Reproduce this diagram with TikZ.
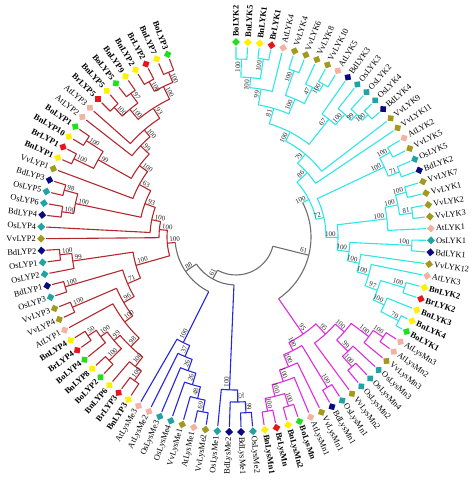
\documentclass[tikz,border=0pt]{standalone}
\usepackage{fontspec}
\setmainfont{Liberation Serif}
\usepackage{xcolor}
% branch colours
\definecolor{LYP_Red}{HTML}{B3282D}
\definecolor{LYK_Cyan}{HTML}{2EE6E6}
\definecolor{LysMn_Magenta}{HTML}{E02BE0}
\definecolor{LysMe_Blue}{HTML}{2626DD}
\definecolor{Root_Gray}{HTML}{6E6E6E}
\definecolor{Num_Gray}{HTML}{262626}
% species colours
\definecolor{Bn_Yellow}{HTML}{FFF000}
\definecolor{Br_Red}{HTML}{E8161B}
\definecolor{Bo_Green}{HTML}{1EE01E}
\definecolor{At_Pink}{HTML}{F2B2A2}
\definecolor{Vv_Olive}{HTML}{A19A1F}
\definecolor{Os_Teal}{HTML}{22A3A3}
\definecolor{Bd_Navy}{HTML}{0A0A80}

\tikzset{
  tipmark/.style={rectangle, minimum size=5.6pt, inner sep=0pt},
  leaflab/.style={font=\fontsize{8.4}{9}\selectfont, inner sep=0pt},
  bootnum/.style={font=\fontsize{7}{7}\selectfont, text=Num_Gray, inner sep=0.8pt},
  branch/.style={line width=1.1pt, line join=round},
}

\newcount\bootcnt
% one internal node: child angle/radius, child angle/radius, node radius
\newcommand{\clade}[5]{\draw (#1:#2pt) -- (#1:#5pt) arc[start angle=#1, end angle=#3, radius=#5pt] -- (#3:#4pt);}
\newcommand{\stalk}[3]{\draw (#1:#2pt) -- (#1:#3pt);}
% bootstrap value next to a node
\newcommand{\boot}[3]{%
  \global\advance\bootcnt by 1
  \pgfmathsetmacro\bootr{#2-1.5}%
  \pgfmathtruncatemacro\bootside{cos(#1)>=0}%
  \ifnum\bootside=1
    \node[bootnum, rotate=#1, anchor=south east] (b\the\bootcnt) at (#1:\bootr pt) {#3};%
  \else
    \node[bootnum, rotate=#1+180, anchor=south west] (b\the\bootcnt) at (#1:\bootr pt) {#3};%
  \fi}
% leaf: index, gene, species colour, font
\newcommand{\leaf}[4]{%
  \pgfmathsetmacro\lfang{93.5-3.5*#1}%
  \node[tipmark, fill=#3, rotate=\lfang+45] (m#1) at (\lfang:195pt) {};%
  \pgfmathtruncatemacro\lfside{cos(\lfang)>=0}%
  \ifnum\lfside=1
    \node[leaflab, rotate=\lfang, anchor=west] (t#1) at (\lfang:200pt) {#4#2};%
  \else
    \node[leaflab, rotate=\lfang+180, anchor=east] (t#1) at (\lfang:200pt) {#4#2};%
  \fi}

\begin{document}
\begin{tikzpicture}
    \useasboundingbox (-236pt,-245pt) rectangle (238pt,237pt);

    % Root (gray)
    \begin{scope}[branch, Root_Gray]
        \draw (240.93:38pt) arc[start angle=240.93, end angle=345.95, radius=38pt];
        \stalk{240.93}{38}{48}
        \draw (214.3:48pt) arc[start angle=214.3, end angle=267.56, radius=48pt];
        \stalk{214.3}{48}{61}
        \draw (185.15:61pt) arc[start angle=185.15, end angle=243.45, radius=61pt];
        \stalk{-14.05}{38}{75}
        \draw (-55.36:75pt) arc[start angle=-55.36, end angle=27.27, radius=75pt];
    \end{scope}
    \boot{214.3}{61}{88}
    \boot{240.93}{48}{61}
    \boot{-14.05}{75}{61}

    % LYK clade (cyan)
    \begin{scope}[branch, LYK_Cyan]
        \stalk{27.27}{75}{82}
        \clade{90}{190}{86.5}{190}{178}
        \clade{83}{190}{79.5}{190}{180}
        \clade{88.25}{178}{81.25}{180}{160}
        \clade{84.75}{160}{76}{190}{150}
        \clade{72.5}{190}{69}{190}{176}
        \clade{62}{190}{58.5}{190}{176}
        \clade{65.5}{190}{60.25}{176}{168}
        \clade{70.75}{176}{62.875}{168}{150}
        \clade{80.375}{150}{66.8125}{150}{134}
        \clade{44.5}{190}{41}{190}{180}
        \clade{48}{190}{42.75}{180}{172}
        \clade{51.5}{190}{45.375}{172}{164}
        \clade{55}{190}{48.4375}{164}{150}
        \clade{73.59}{134}{51.72}{150}{118}
        \clade{62.66}{118}{37.5}{190}{108}
        \clade{50.08}{108}{34}{190}{96}
        \clade{30.5}{190}{27}{190}{176}
        \clade{23.5}{190}{20}{190}{176}
        \clade{28.75}{176}{21.75}{176}{164}
        \clade{16.5}{190}{13}{190}{176}
        \clade{9.5}{190}{6}{190}{178}
        \clade{14.75}{176}{7.75}{178}{165}
        \clade{11.25}{165}{2.5}{190}{152}
        \clade{-1}{190}{-4.5}{190}{176}
        \clade{-15}{190}{-18.5}{190}{176}
        \clade{-25.5}{190}{-29}{190}{183}
        \clade{-22}{190}{-27.25}{183}{163}
        \clade{-16.75}{176}{-24.625}{163}{151}
        \clade{-11.5}{190}{-20.6875}{151}{138}
        \clade{-8}{190}{-16.09}{138}{126}
        \clade{-2.75}{176}{-12.05}{126}{114}
        \clade{6.875}{152}{-7.4}{114}{102}
        \clade{25.25}{164}{-0.26}{102}{90}
        \clade{42.04}{96}{12.5}{90}{82}
    \end{scope}
    \boot{88.25}{178}{100}   \boot{81.25}{180}{100}  \boot{84.75}{160}{100}
    \boot{80.375}{150}{99}   \boot{70.75}{176}{100}  \boot{60.25}{176}{100}
    \boot{62.875}{168}{47}   \boot{66.8125}{150}{100} \boot{73.59}{134}{81}
    \boot{42.75}{180}{100}   \boot{45.375}{172}{99}  \boot{48.4375}{164}{100}
    \boot{51.72}{150}{67}    \boot{62.66}{118}{100}  \boot{50.08}{108}{79}
    \boot{42.04}{96}{86}     \boot{28.75}{176}{100}  \boot{21.75}{176}{71}
    \boot{25.25}{164}{100}   \boot{14.75}{176}{100}  \boot{7.75}{178}{81}
    \boot{11.25}{165}{100}   \boot{6.875}{152}{100}  \boot{-2.75}{176}{100}
    \boot{-16.75}{176}{100}  \boot{-27.25}{183}{70}  \boot{-24.625}{163}{100}
    \boot{-20.6875}{151}{97} \boot{-16.09}{138}{100} \boot{-12.05}{126}{100}
    \boot{-7.4}{114}{100}    \boot{-0.26}{102}{100}  \boot{12.5}{90}{72}
    \boot{27.27}{82}{100}

    % LysMn clade (magenta)
    \begin{scope}[branch, LysMn_Magenta]
        \stalk{-55.36}{75}{118}
        \clade{-32.5}{190}{-36}{190}{178}
        \clade{-34.25}{178}{-39.5}{190}{166}
        \clade{-46.5}{190}{-50}{190}{174}
        \clade{-43}{190}{-48.25}{174}{160}
        \clade{-36.875}{166}{-45.625}{160}{144}
        \clade{-41.25}{144}{-53.5}{190}{132}
        \clade{-57}{190}{-60.5}{190}{176}
        \clade{-71}{190}{-74.5}{190}{177}
        \clade{-78}{190}{-81.5}{190}{177}
        \clade{-72.75}{177}{-79.75}{177}{164}
        \clade{-67.5}{190}{-76.25}{164}{152}
        \clade{-64}{190}{-71.875}{152}{140}
        \clade{-58.75}{176}{-67.94}{140}{127}
        \clade{-47.375}{132}{-63.34}{127}{118}
    \end{scope}
    \boot{-34.25}{178}{100}  \boot{-36.875}{166}{100} \boot{-48.25}{174}{100}
    \boot{-45.625}{160}{99}  \boot{-41.25}{144}{100}  \boot{-47.375}{132}{95}
    \boot{-58.75}{176}{100}  \boot{-72.75}{177}{100}  \boot{-79.75}{177}{100}
    \boot{-76.25}{164}{100}  \boot{-71.875}{152}{100} \boot{-67.94}{140}{100}
    \boot{-63.34}{127}{100}  \boot{-55.36}{118}{95}

    % LysMe clades (blue)
    \begin{scope}[branch, LysMe_Blue]
        \stalk{-92.44}{48}{153}
        \clade{-85}{190}{-88.5}{190}{176}
        \clade{-86.75}{176}{-92}{190}{165}
        \clade{-89.375}{165}{-95.5}{190}{153}
        \stalk{-116.55}{61}{118}
        \clade{-99}{190}{-102.5}{190}{178}
        \clade{-100.75}{178}{-106}{190}{166}
        \clade{-103.375}{166}{-109.5}{190}{154}
        \clade{-106.44}{154}{-113}{190}{142}
        \clade{-109.72}{142}{-116.5}{190}{130}
        \clade{-113.11}{130}{-120}{190}{118}
    \end{scope}
    \boot{-86.75}{176}{99}   \boot{-89.375}{165}{75}  \boot{-92.44}{153}{100}
    \boot{-100.75}{178}{69}  \boot{-103.375}{166}{48} \boot{-106.44}{154}{26}
    \boot{-109.72}{142}{26}  \boot{-113.11}{130}{37}  \boot{-116.55}{118}{100}

    % LYP clade (red)
    \begin{scope}[branch, LYP_Red]
        \stalk{185.15}{61}{69}
        \clade{236.5}{190}{233}{190}{176}
        \clade{234.75}{176}{229.5}{190}{164}
        \clade{226}{190}{222.5}{190}{177}
        \clade{215.5}{190}{212}{190}{178}
        \clade{219}{190}{213.75}{178}{168}
        \clade{224.25}{177}{216.375}{168}{160}
        \clade{232.125}{164}{220.3125}{160}{152}
        \clade{226.22}{152}{208.5}{190}{140}
        \clade{205}{190}{201.5}{190}{178}
        \clade{217.36}{140}{203.25}{178}{130}
        \clade{198}{190}{194.5}{190}{178}
        \clade{210.3}{130}{196.25}{178}{118}
        \clade{187.5}{190}{184}{190}{177}
        \clade{191}{190}{185.75}{177}{165}
        \clade{203.28}{118}{188.375}{165}{104}
        \clade{114}{190}{110.5}{190}{178}
        \clade{121}{190}{117.5}{190}{178}
        \clade{119.25}{178}{112.25}{178}{167}
        \clade{128}{190}{124.5}{190}{178}
        \clade{135}{190}{131.5}{190}{178}
        \clade{133.25}{178}{126.25}{178}{166}
        \clade{129.75}{166}{115.75}{167}{153}
        \clade{138.5}{190}{122.75}{153}{141}
        \clade{142}{190}{130.625}{141}{132}
        \clade{149}{190}{145.5}{190}{178}
        \clade{156}{190}{152.5}{190}{180}
        \clade{154.25}{180}{147.25}{178}{158}
        \clade{150.75}{158}{136.31}{132}{120}
        \clade{159.5}{190}{143.53}{120}{110}
        \clade{166.5}{190}{163}{190}{178}
        \clade{173.5}{190}{170}{190}{176}
        \clade{171.75}{176}{164.75}{178}{164}
        \clade{168.25}{164}{151.52}{110}{97}
        \clade{177}{190}{159.88}{97}{86}
        \clade{180.5}{190}{168.44}{86}{77}
        \clade{174.47}{77}{195.83}{104}{69}
    \end{scope}
    \boot{234.75}{176}{100}  \boot{232.125}{164}{100} \boot{224.25}{177}{100}
    \boot{213.75}{178}{50}   \boot{216.375}{168}{100} \boot{220.3125}{160}{99}
    \boot{226.22}{152}{98}   \boot{217.36}{140}{100}  \boot{203.25}{178}{100}
    \boot{210.3}{130}{96}    \boot{196.25}{178}{100}  \boot{203.28}{118}{71}
    \boot{185.75}{177}{100}  \boot{188.375}{165}{99}  \boot{195.83}{104}{100}
    \boot{112.25}{178}{100}  \boot{119.25}{178}{100}  \boot{115.75}{167}{100}
    \boot{126.25}{178}{97}   \boot{133.25}{178}{100}  \boot{129.75}{166}{100}
    \boot{122.75}{153}{93}   \boot{130.625}{141}{100} \boot{136.31}{132}{99}
    \boot{147.25}{178}{100}  \boot{154.25}{180}{100}  \boot{150.75}{158}{99}
    \boot{143.53}{120}{100}  \boot{151.52}{110}{63}   \boot{164.75}{178}{98}
    \boot{171.75}{176}{100}  \boot{168.25}{164}{100}  \boot{159.88}{97}{93}
    \boot{168.44}{86}{100}   \boot{174.47}{77}{100}   \boot{185.15}{69}{100}

    % Leaves
    \leaf{1}{BoLYK2}{Bo_Green}{\bfseries}
    \leaf{2}{BnLYK5}{Bn_Yellow}{\bfseries}
    \leaf{3}{BnLYK1}{Bn_Yellow}{\bfseries}
    \leaf{4}{BrLYK1}{Br_Red}{\bfseries}
    \leaf{5}{AtLYK4}{At_Pink}{}
    \leaf{6}{VvLYK4}{Vv_Olive}{}
    \leaf{7}{VvLYK6}{Vv_Olive}{}
    \leaf{8}{VvLYK8}{Vv_Olive}{}
    \leaf{9}{VvLYK10}{Vv_Olive}{}
    \leaf{10}{AtLYK5}{At_Pink}{}
    \leaf{11}{BdLYK3}{Bd_Navy}{}
    \leaf{12}{OsLYK3}{Os_Teal}{}
    \leaf{13}{OsLYK2}{Os_Teal}{}
    \leaf{14}{OsLYK4}{Os_Teal}{}
    \leaf{15}{BdLYK4}{Bd_Navy}{}
    \leaf{16}{VvLYK9}{Vv_Olive}{}
    \leaf{17}{VvLYK11}{Vv_Olive}{}
    \leaf{18}{AtLYK2}{At_Pink}{}
    \leaf{19}{VvLYK5}{Vv_Olive}{}
    \leaf{20}{OsLYK5}{Os_Teal}{}
    \leaf{21}{BdLYK2}{Bd_Navy}{}
    \leaf{22}{VvLYK7}{Vv_Olive}{}
    \leaf{23}{VvLYK1}{Vv_Olive}{}
    \leaf{24}{VvLYK2}{Vv_Olive}{}
    \leaf{25}{VvLYK3}{Vv_Olive}{}
    \leaf{26}{AtLYK1}{At_Pink}{}
    \leaf{27}{OsLYK1}{Os_Teal}{}
    \leaf{28}{BdLYK1}{Bd_Navy}{}
    \leaf{29}{VvLYK12}{Vv_Olive}{}
    \leaf{30}{AtLYK3}{At_Pink}{}
    \leaf{31}{BnLYK2}{Bn_Yellow}{\bfseries}
    \leaf{32}{BrLYK2}{Br_Red}{\bfseries}
    \leaf{33}{BnLYK3}{Bn_Yellow}{\bfseries}
    \leaf{34}{BnLYK4}{Bn_Yellow}{\bfseries}
    \leaf{35}{BoLYK1}{Bo_Green}{\bfseries}
    \leaf{36}{AtLysMn3}{At_Pink}{}
    \leaf{37}{AtLysMn2}{At_Pink}{}
    \leaf{38}{VvLysMn3}{Vv_Olive}{}
    \leaf{39}{OsLysMn3}{Os_Teal}{}
    \leaf{40}{OsLysMn4}{Os_Teal}{}
    \leaf{41}{OsLysMn2}{Os_Teal}{}
    \leaf{42}{VvLysMn2}{Vv_Olive}{}
    \leaf{43}{OsLysMn1}{Os_Teal}{}
    \leaf{44}{BdLysMn1}{Bd_Navy}{}
    \leaf{45}{VvLysMn1}{Vv_Olive}{}
    \leaf{46}{AtLysMn1}{At_Pink}{}
    \leaf{47}{BoLysMn}{Bo_Green}{\bfseries}
    \leaf{48}{BnLysMn2}{Bn_Yellow}{\bfseries}
    \leaf{49}{BrLysMn}{Br_Red}{\bfseries}
    \leaf{50}{BnLysMn1}{Bn_Yellow}{\bfseries}
    \leaf{51}{OsLysMe2}{Os_Teal}{}
    \leaf{52}{BdLysMe1}{Bd_Navy}{}
    \leaf{53}{BdLysMe2}{Bd_Navy}{}
    \leaf{54}{OsLysMe1}{Os_Teal}{}
    \leaf{55}{VvLysMe2}{Vv_Olive}{}
    \leaf{56}{AtLysMe1}{At_Pink}{}
    \leaf{57}{VvLysMe1}{Vv_Olive}{}
    \leaf{58}{OsLysMe4}{Os_Teal}{}
    \leaf{59}{OsLysMe3}{Os_Teal}{}
    \leaf{60}{AtLysMe2}{At_Pink}{}
    \leaf{61}{AtLysMe3}{At_Pink}{}
    \leaf{62}{BnLYP3}{Bn_Yellow}{\bfseries}
    \leaf{63}{BrLYP3}{Br_Red}{\bfseries}
    \leaf{64}{BnLYP6}{Bn_Yellow}{\bfseries}
    \leaf{65}{BoLYP2}{Bo_Green}{\bfseries}
    \leaf{66}{BnLYP8}{Bn_Yellow}{\bfseries}
    \leaf{67}{BoLYP4}{Bo_Green}{\bfseries}
    \leaf{68}{BrLYP4}{Br_Red}{\bfseries}
    \leaf{69}{BnLYP4}{Bn_Yellow}{\bfseries}
    \leaf{70}{AtLYP1}{At_Pink}{}
    \leaf{71}{VvLYP4}{Vv_Olive}{}
    \leaf{72}{VvLYP3}{Vv_Olive}{}
    \leaf{73}{OsLYP3}{Os_Teal}{}
    \leaf{74}{BdLYP1}{Bd_Navy}{}
    \leaf{75}{OsLYP2}{Os_Teal}{}
    \leaf{76}{OsLYP1}{Os_Teal}{}
    \leaf{77}{BdLYP2}{Bd_Navy}{}
    \leaf{78}{VvLYP2}{Vv_Olive}{}
    \leaf{79}{OsLYP4}{Os_Teal}{}
    \leaf{80}{BdLYP4}{Bd_Navy}{}
    \leaf{81}{OsLYP6}{Os_Teal}{}
    \leaf{82}{OsLYP5}{Os_Teal}{}
    \leaf{83}{BdLYP3}{Bd_Navy}{}
    \leaf{84}{VvLYP1}{Vv_Olive}{}
    \leaf{85}{BnLYP1}{Bn_Yellow}{\bfseries}
    \leaf{86}{BrLYP1}{Br_Red}{\bfseries}
    \leaf{87}{BnLYP10}{Bn_Yellow}{\bfseries}
    \leaf{88}{BoLYP1}{Bo_Green}{\bfseries}
    \leaf{89}{AtLYP2}{At_Pink}{}
    \leaf{90}{AtLYP3}{At_Pink}{}
    \leaf{91}{BrLYP5}{Br_Red}{\bfseries}
    \leaf{92}{BnLYP5}{Bn_Yellow}{\bfseries}
    \leaf{93}{BoLYP5}{Bo_Green}{\bfseries}
    \leaf{94}{BnLYP9}{Bn_Yellow}{\bfseries}
    \leaf{95}{BnLYP2}{Bn_Yellow}{\bfseries}
    \leaf{96}{BrLYP2}{Br_Red}{\bfseries}
    \leaf{97}{BnLYP7}{Bn_Yellow}{\bfseries}
    \leaf{98}{BoLYP3}{Bo_Green}{\bfseries}

\end{tikzpicture}
\end{document}
